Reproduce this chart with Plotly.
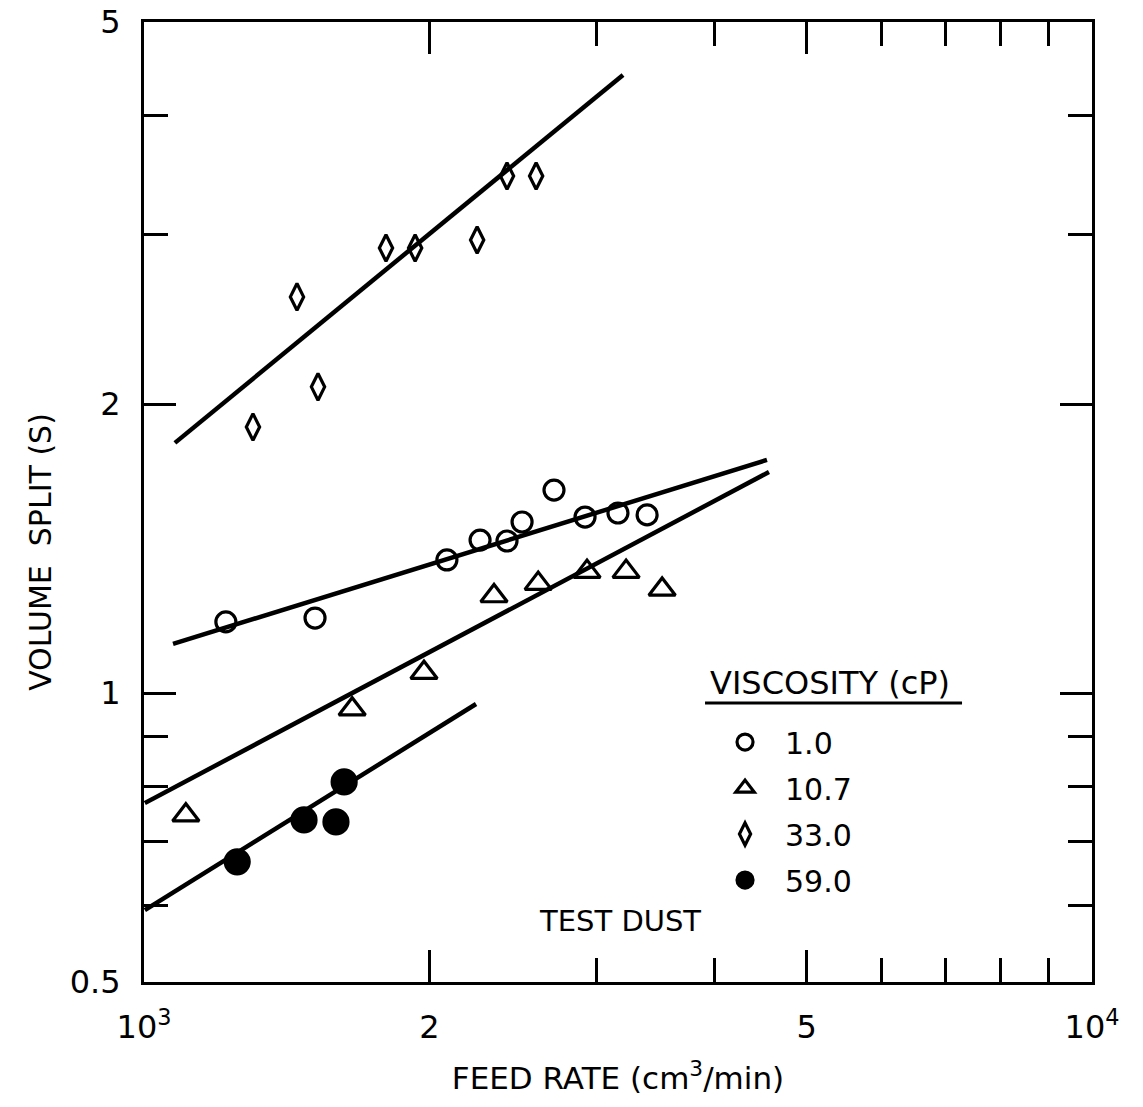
import plotly.graph_objects as go

# ---- data ----
feed_1 = [1220, 1515, 2087, 2262, 2415, 2505, 2707, 2919, 3162, 3394]
split_1 = [1.186, 1.197, 1.376, 1.443, 1.440, 1.507, 1.627, 1.525, 1.540, 1.533]

feed_107 = [1107, 1658, 1974, 2340, 2605, 2933, 3225, 3520]
split_107 = [0.746, 0.962, 1.050, 1.262, 1.300, 1.338, 1.338, 1.282]

feed_33 = [1303, 1450, 1526, 1800, 1932, 2246, 2415, 2592]
split_33 = [1.893, 2.586, 2.084, 2.908, 2.908, 2.964, 3.456, 3.456]

feed_59 = [1254, 1475, 1594, 1626]
split_59 = [0.667, 0.7375, 0.734, 0.808]

fit_feed_1 = [1073, 4541]
fit_split_1 = [1.125, 1.749]
fit_feed_107 = [1002, 4563]
fit_split_107 = [0.768, 1.699]
fit_feed_33 = [1078, 3201]
fit_split_33 = [1.822, 4.404]
fit_feed_59 = [1002, 2240]
fit_split_59 = [0.594, 0.974]

x_tick_vals = [1000, 2000, 5000, 10000]
x_tick_text = ["10<sup>3</sup>", "2", "5", "10<sup>4</sup>"]
x_minor_vals = [3000, 4000, 6000, 7000, 8000, 9000]
y_tick_vals = [0.5, 1, 2, 5]
y_tick_text = ["0.5", "1", "2", "5"]
y_minor_vals = [0.6, 0.7, 0.8, 0.9, 3, 4]

FONT = "DejaVu Sans"

fig = go.Figure()

for fx, fy in [(fit_feed_33, fit_split_33), (fit_feed_1, fit_split_1),
               (fit_feed_107, fit_split_107), (fit_feed_59, fit_split_59)]:
    fig.add_trace(go.Scatter(x=fx, y=fy, mode="lines",
                             line=dict(color="black", width=4.5),
                             showlegend=False, hoverinfo="skip"))

series = [
    ("1.0", feed_1, split_1, "circle-open", 20),
    ("10.7", feed_107, split_107, "triangle-up-open", 23),
    ("33.0", feed_33, split_33, "diamond-tall-open", 19),
    ("59.0", feed_59, split_59, "circle", 24),
]
for name, xs, ys, sym, sz in series:
    fig.add_trace(go.Scatter(
        x=xs, y=ys, mode="markers", name=name, legendgroup=name,
        marker=dict(symbol=sym, size=sz, color="black",
                    line=dict(color="black", width=3.2)),
    ))

axis_common = dict(
    type="log", tickmode="array", ticks="inside", ticklen=32, tickwidth=2.5,
    tickcolor="black", showline=True, linecolor="black", linewidth=3,
    mirror="allticks", showgrid=False, zeroline=False,
    tickfont=dict(family=FONT, size=32, color="black"), automargin=False,
)

fig.update_layout(
    width=1143, height=1107,
    margin=dict(l=144, r=51, t=22, b=125),
    plot_bgcolor="white", paper_bgcolor="white",
    font=dict(family=FONT, color="black"),
    xaxis=dict(
        range=[3, 4], tickvals=x_tick_vals, ticktext=x_tick_text,
        ticklabelstandoff=15,
        minor=dict(tickmode="array", tickvals=x_minor_vals, ticks="inside",
                   ticklen=24, tickwidth=2.5, tickcolor="black", showgrid=False),
        title=dict(text="FEED RATE (cm<sup>3</sup>/min)",
                   font=dict(family=FONT, size=31, color="black"), standoff=22),
        **axis_common,
    ),
    yaxis=dict(
        range=[-0.30103, 0.69897], tickvals=y_tick_vals, ticktext=y_tick_text,
        ticklabelstandoff=14,
        minor=dict(tickmode="array", tickvals=y_minor_vals, ticks="inside",
                   ticklen=24, tickwidth=2.5, tickcolor="black", showgrid=False),
        **axis_common,
    ),
    legend=dict(x=0.5918, y=0.277, xanchor="left", yanchor="top",
                font=dict(family=FONT, size=30, color="black"),
                bgcolor="rgba(0,0,0,0)", borderwidth=0, itemwidth=70,
                tracegroupgap=4),
    showlegend=True,
)

fig.add_annotation(text="VOLUME\u00a0 SPLIT (S)", xref="paper", yref="paper",
                   x=-0.1087, y=0.448, xanchor="center", yanchor="middle",
                   textangle=-90, showarrow=False,
                   font=dict(family=FONT, size=30, color="black"))
fig.add_annotation(text="VISCOSITY (cP)", xref="paper", yref="paper",
                   x=0.7236, y=0.3115, xanchor="center", yanchor="middle",
                   showarrow=False,
                   font=dict(family=FONT, size=32, color="black"))
fig.add_annotation(text="TEST DUST", xref="paper", yref="paper",
                   x=0.502, y=0.0635, xanchor="center", yanchor="middle",
                   showarrow=False,
                   font=dict(family=FONT, size=29, color="black"))
fig.add_shape(type="line", xref="paper", yref="paper",
              x0=0.5918, x1=0.8629, y0=0.2906, y1=0.2906,
              line=dict(color="black", width=3))

fig.write_html("out.html")
